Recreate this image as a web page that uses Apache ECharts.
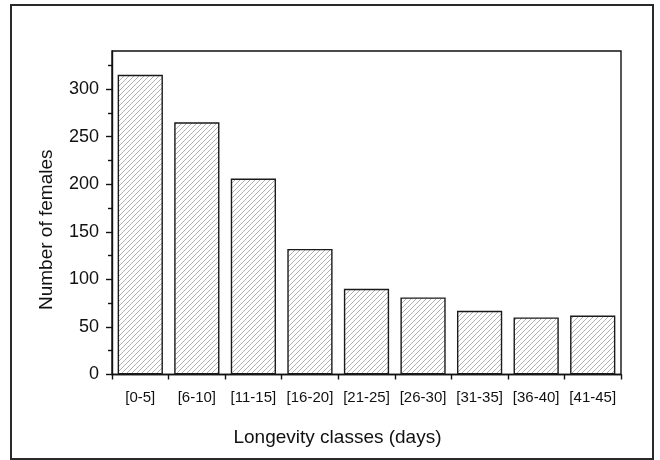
<!DOCTYPE html>
<html>
<head>
<meta charset="utf-8">
<script src="https://cdn.jsdelivr.net/npm/echarts@6/dist/echarts.min.js"></script>
<style>
html,body{margin:0;padding:0;background:#fff;}
#chart{width:660px;height:460px;}
</style>
</head>
<body>
<div id="chart"></div>
<script>
var categories = ['[0-5]', '[6-10]', '[11-15]', '[16-20]', '[21-25]', '[26-30]', '[31-35]', '[36-40]', '[41-45]'];
var females = [315, 265, 206, 132, 90, 81, 67, 60, 62];
var yTicks = [0, 50, 100, 150, 200, 250, 300];
var yMinorTicks = [25, 75, 125, 175, 225, 275, 325];
var yMax = 340;

function hatch() {
  var c = document.createElement('canvas');
  c.width = 20; c.height = 20;
  var g = c.getContext('2d');
  g.fillStyle = '#ffffff';
  g.fillRect(0, 0, 20, 20);
  g.strokeStyle = '#9c9c9c';
  g.lineWidth = 0.8;
  for (var k = -20; k <= 60; k += 5) {
    g.beginPath();
    g.moveTo(k + 5, -5);
    g.lineTo(-5, k + 5);
    g.stroke();
  }
  return c;
}

var font = '"Liberation Sans", Arial, sans-serif';
var chart = echarts.init(document.getElementById('chart'), null, {renderer: 'canvas'});
chart.setOption({
  animation: false,
  backgroundColor: '#ffffff',
  graphic: [{
    type: 'rect',
    shape: {x: 11, y: 5, width: 642, height: 454},
    style: {fill: 'none', stroke: '#2a2a2a', lineWidth: 2},
    z: 0
  }],
  grid: {
    left: 112, right: 39, top: 51, bottom: 85.5,
    show: true, borderColor: '#111', borderWidth: 1.4, backgroundColor: 'transparent'
  },
  xAxis: {
    type: 'category',
    data: categories,
    boundaryGap: true,
    name: 'Longevity classes (days)',
    nameLocation: 'middle',
    nameGap: 54,
    nameTextStyle: {fontFamily: font, fontSize: 19, color: '#111', padding: [0, 58, 0, 0]},
    axisLine: {lineStyle: {color: '#111', width: 1.4}},
    axisTick: {show: true, interval: 0, length: 5, lineStyle: {color: '#111', width: 1.4}},
    axisLabel: {interval: 0, margin: 16, fontFamily: font, fontSize: 15, color: '#111'},
    splitLine: {show: false}
  },
  yAxis: [{
    type: 'value',
    min: 0, max: yMax,
    name: 'Number of females',
    nameLocation: 'middle',
    nameGap: 56,
    nameRotate: 90,
    nameTextStyle: {fontFamily: font, fontSize: 19, color: '#111', padding: [0, 34, 0, 0]},
    axisLine: {show: true, lineStyle: {color: '#111', width: 1.4}},
    axisTick: {show: true, length: 6, customValues: yTicks, lineStyle: {color: '#111', width: 1.4}},
    axisLabel: {margin: 13, customValues: yTicks, fontFamily: font, fontSize: 18, color: '#111'},
    splitLine: {show: false}
  }, {
    type: 'value',
    min: 0, max: yMax,
    position: 'left',
    axisLine: {show: false},
    axisTick: {show: true, length: 4, customValues: yMinorTicks, lineStyle: {color: '#111', width: 1.4}},
    axisLabel: {show: false},
    splitLine: {show: false}
  }],
  series: [{
    type: 'bar',
    data: females,
    yAxisIndex: 0,
    barCategoryGap: '20%',
    itemStyle: {
      color: {image: hatch(), repeat: 'repeat'},
      borderColor: '#1a1a1a',
      borderWidth: 1.4
    }
  }]
});
</script>
</body>
</html>
